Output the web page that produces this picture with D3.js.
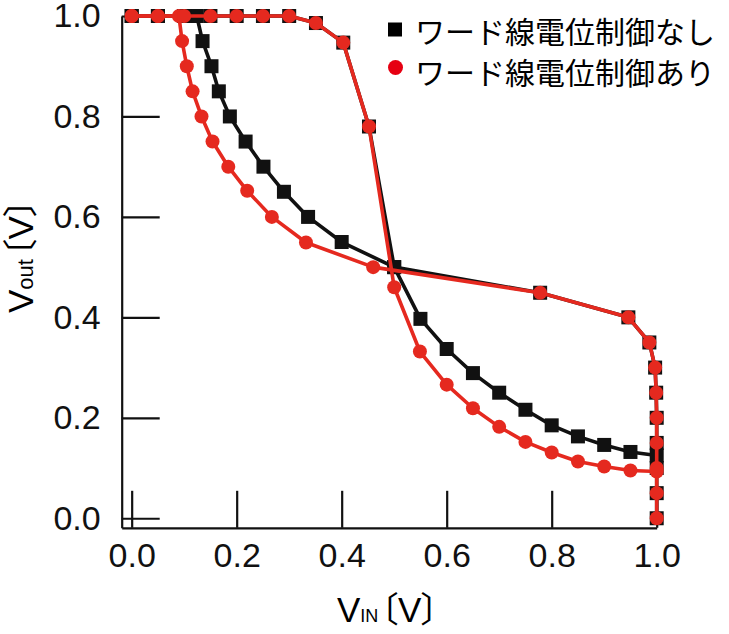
<!DOCTYPE html>
<html><head><meta charset="utf-8">
<script src="https://cdn.jsdelivr.net/npm/d3@7/dist/d3.min.js"></script>
<style>
html,body{margin:0;padding:0;background:#fff;}
svg{display:block;}
.br{font-feature-settings:"palt";}
</style></head>
<body>
<svg id="chart" width="729" height="634"></svg>
<script>
// ---- data ----
const xTicks = [0.0, 0.2, 0.4, 0.6, 0.8, 1.0];
const yTicks = [0.0, 0.2, 0.4, 0.6, 0.8, 1.0];
const legendLabels = ["ワード線電位制御なし", "ワード線電位制御あり"];

// ワード線電位制御なし (black squares)
const offFwdX = [0,0.05,0.1,0.124,0.135,0.152,0.166,0.187,0.217,0.251,0.29,0.336,0.4,0.5,0.55,0.6,0.65,0.7,0.75,0.8,0.85,0.9,0.95,1.0];
const offFwdY = [1,1,1,1,0.95,0.9,0.85,0.8,0.75,0.7,0.65,0.6,0.55,0.5,0.397,0.337,0.289,0.25,0.216,0.185,0.163,0.146,0.132,0.125];
const offRevX = [0,0.05,0.1,0.15,0.2,0.25,0.3,0.351,0.403,0.452,0.5,0.778,0.946,0.986,0.997,0.999,1,1,1,1,1];
const offRevY = [1,1,1,1,1,1,1,0.986,0.947,0.78,0.5,0.449,0.4,0.35,0.3,0.25,0.2,0.15,0.1,0.05,0.0];

// ワード線電位制御あり (red circles)
const onAX = [0,0.05,0.09,0.096,0.105,0.116,0.133,0.154,0.184,0.22,0.267,0.332,0.46,0.778,0.946,0.986,0.997,0.999,1,1,1,1,1];
const onAY = [1,1,1,0.95,0.9,0.85,0.8,0.75,0.7,0.652,0.6,0.549,0.5,0.449,0.4,0.35,0.3,0.25,0.2,0.15,0.1,0.05,0.0];
const onBX = [0,0.05,0.1,0.15,0.2,0.25,0.3,0.351,0.403,0.452,0.5,0.549,0.6,0.65,0.7,0.75,0.8,0.85,0.9,0.95,1.0];
const onBY = [1,1,1,1,1,1,1,0.986,0.947,0.78,0.46,0.332,0.266,0.219,0.182,0.152,0.131,0.113,0.103,0.095,0.093];

const BLACK = "#111111";
const RED = "#e5291f";
const RED_LEG = "#e60012";

const svg = d3.select("#chart");
const x = d3.scaleLinear().domain([-0.019, 1.0]).range([121.7, 656.7]);
const y = d3.scaleLinear().domain([-0.019, 1.0]).range([527.8, 16]);

const tickFont = "'Liberation Sans', Arial, Helvetica, sans-serif";

// axes
const gx = svg.append("g").attr("transform", `translate(0,${y(-0.019)})`)
  .call(d3.axisBottom(x).tickValues(xTicks).tickFormat(d3.format(".1f")).tickSize(-37).tickSizeOuter(0).tickPadding(15));
const gy = svg.append("g").attr("transform", `translate(${x(-0.019)},0)`)
  .call(d3.axisLeft(y).tickValues(yTicks).tickFormat(d3.format(".1f")).tickSize(-38).tickSizeOuter(0).tickPadding(21));
[gx, gy].forEach(g => {
  g.select(".domain").attr("stroke", BLACK).attr("stroke-width", 2.2);
  g.selectAll(".tick line").attr("stroke", BLACK).attr("stroke-width", 2.2);
  g.selectAll(".tick text").attr("fill", BLACK).style("font-family", tickFont).style("font-size", "34px");
});

const zip = (xs, ys) => xs.map((v, i) => [v, ys[i]]);
const line = d3.line().x(d => x(d[0])).y(d => y(d[1]));

function drawSeries(data, color) {
  svg.append("path").datum(data).attr("d", line)
    .attr("fill", "none").attr("stroke", color).attr("stroke-width", 3.6).attr("stroke-linejoin", "round");
}
function drawMarkers(data, color, shape) {
  if (shape === "square") {
    svg.append("g").selectAll("rect").data(data).join("rect")
      .attr("x", d => x(d[0]) - 7).attr("y", d => y(d[1]) - 7)
      .attr("width", 14).attr("height", 14).attr("fill", color);
  } else {
    svg.append("g").selectAll("circle").data(data).join("circle")
      .attr("cx", d => x(d[0])).attr("cy", d => y(d[1])).attr("r", 7).attr("fill", color);
  }
}
const offF = zip(offFwdX, offFwdY), offR = zip(offRevX, offRevY);
const onA = zip(onAX, onAY), onB = zip(onBX, onBY);

drawSeries(offF, BLACK); drawSeries(offR, BLACK);
drawMarkers(offF, BLACK, "square"); drawMarkers(offR, BLACK, "square");
drawSeries(onA, RED); drawSeries(onB, RED);
drawMarkers(onA, RED, "circle"); drawMarkers(onB, RED, "circle");

// legend
const cjk = "'Noto Sans CJK JP', 'Noto Sans CJK SC', sans-serif";
const leg = svg.append("g");
leg.append("rect").attr("x", 388).attr("y", 22.5).attr("width", 14).attr("height", 14).attr("fill", "#000");
leg.append("circle").attr("cx", 395.5).attr("cy", 67.5).attr("r", 7.5).attr("fill", RED_LEG);
leg.selectAll("text").data(legendLabels).join("text")
  .attr("x", 415).attr("y", (d, i) => 30 + i * 40.5)
  .attr("dominant-baseline", "central")
  .style("font-family", cjk).style("font-size", "30px").attr("fill", "#000")
  .text(d => d);

// axis titles
function title(sel, sub, subSize) {
  sel.append("tspan").text("V").style("font-family", tickFont).style("font-size", "35px");
  sel.append("tspan").text(sub).style("font-family", tickFont).style("font-size", subSize);
  sel.append("tspan").attr("class", "br").attr("dx", 2).text("〔").style("font-family", cjk).style("font-size", "35px");
  sel.append("tspan").text("V").style("font-family", tickFont).style("font-size", "35px");
  sel.append("tspan").attr("class", "br").text("〕").style("font-family", cjk).style("font-size", "35px");
}
title(svg.append("text").attr("x", 337).attr("y", 621.5).attr("fill", "#000"), "IN", "18px");
title(svg.append("text").attr("transform", "translate(33,313) rotate(-90)").attr("fill", "#000"), "out", "22px");
</script>
</body></html>
